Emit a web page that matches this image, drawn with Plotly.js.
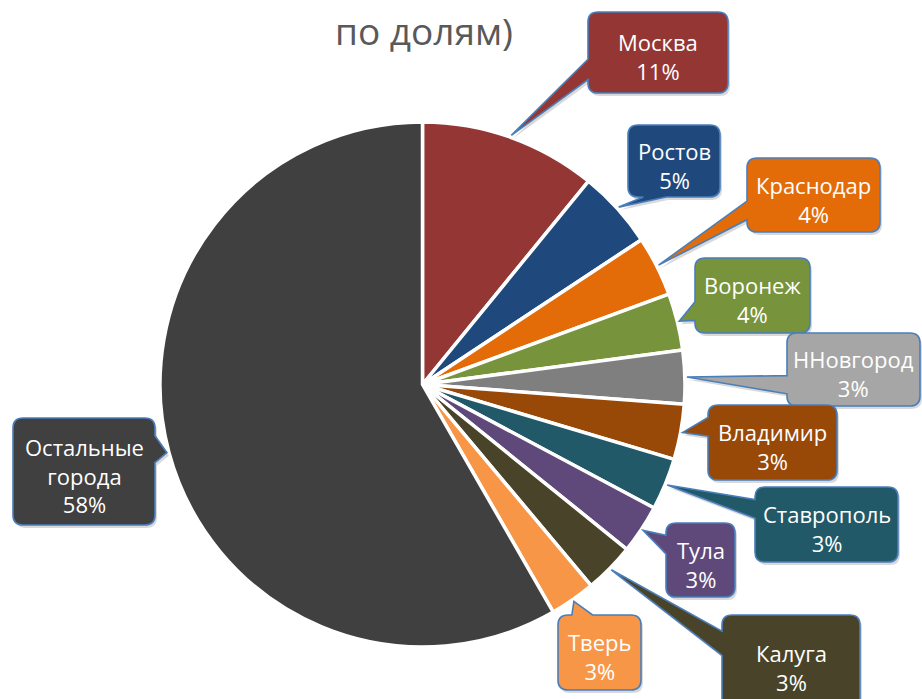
<!DOCTYPE html>
<html>
<head>
<meta charset="utf-8">
<script src="https://cdn.plot.ly/plotly-3.0.1.min.js"></script>
<style>html,body{margin:0;padding:0;background:#fff;}#chart{width:922px;height:699px;}</style>
</head>
<body>
<div id="chart"></div>
<script>
// ---- data ----
const cities = ['Москва','Ростов','Краснодар','Воронеж','ННовгород','Владимир','Ставрополь','Тула','Калуга','Тверь','Остальные города'];
const shares = [10.9, 4.8, 3.7, 3.5, 3.3, 3.4, 3.2, 3.0, 3.1, 2.8, 58.3];
const shareLabels = ['11%','5%','4%','4%','3%','3%','3%','3%','3%','3%','58%'];
const titleText = 'по долям)';

// ---- styles / layout ----
const sliceColors = ['#943634','#1F497D','#E36C09','#77933C','#7F7F7F','#984807','#215968','#5F497A','#494429','#F79646','#404040'];
const boxColors   = ['#943634','#1F497D','#E36C09','#77933C','#A6A6A6','#984807','#215968','#5F497A','#494429','#F79646','#404040'];
// callout boxes in pixels [x0, y0, x1, y1]
const boxes = [
  [588, 12, 728, 93],
  [628, 125, 720, 197],
  [747, 158, 880, 232],
  [695, 258, 810, 333],
  [787, 333, 920, 406],
  [708, 405, 837, 480],
  [755, 487, 898, 562],
  [666, 523, 735, 597],
  [722, 615, 860, 712],
  [558, 615, 641, 690],
  [13, 418, 155, 525]
];
const W = 922, H = 699;
const PIE = {cx: 422.5, cy: 384.5, r: 262.5};

const P = (x, y) => (x / W).toFixed(5) + ',' + (1 - y / H).toFixed(5);

function calloutPath(b, tip, rc, off) {
  let [x0, y0, x1, y1] = b;
  x0 += off[0]; x1 += off[0]; y0 += off[1]; y1 += off[1];
  const tx = tip[0] + off[0], ty = tip[1] + off[1];
  const w = x1 - x0, h = y1 - y0, cx = (x0 + x1) / 2, cy = (y0 + y1) / 2;
  const dx = tx - cx, dy = ty - cy;
  let side;
  if (Math.abs(dx) / w > Math.abs(dy) / h) side = dx < 0 ? 'L' : 'R';
  else side = dy < 0 ? 'T' : 'B';
  let b1, b2;
  if (side === 'L' || side === 'R') {
    if (dy > 0) { b1 = y0 + h * 7 / 12; b2 = y0 + h * 10 / 12; }
    else { b1 = y0 + h * 2 / 12; b2 = y0 + h * 5 / 12; }
  } else {
    if (dx > 0) { b1 = x0 + w * 7 / 12; b2 = x0 + w * 10 / 12; }
    else { b1 = x0 + w * 2 / 12; b2 = x0 + w * 5 / 12; }
  }
  let p = 'M ' + P(x0 + rc, y0);
  if (side === 'T') p += ' L ' + P(b1, y0) + ' L ' + P(tx, ty) + ' L ' + P(b2, y0);
  p += ' L ' + P(x1 - rc, y0) + ' Q ' + P(x1, y0) + ' ' + P(x1, y0 + rc);
  if (side === 'R') p += ' L ' + P(x1, b1) + ' L ' + P(tx, ty) + ' L ' + P(x1, b2);
  p += ' L ' + P(x1, y1 - rc) + ' Q ' + P(x1, y1) + ' ' + P(x1 - rc, y1);
  if (side === 'B') p += ' L ' + P(b2, y1) + ' L ' + P(tx, ty) + ' L ' + P(b1, y1);
  p += ' L ' + P(x0 + rc, y1) + ' Q ' + P(x0, y1) + ' ' + P(x0, y1 - rc);
  if (side === 'L') p += ' L ' + P(x0, b2) + ' L ' + P(tx, ty) + ' L ' + P(x0, b1);
  p += ' L ' + P(x0, y0 + rc) + ' Q ' + P(x0, y0) + ' ' + P(x0 + rc, y0) + ' Z';
  return p;
}

const total = shares.reduce((a, b) => a + b, 0);
const shapes = [], annotations = [];
let cum = 0;
shares.forEach((v, i) => {
  const mid = cum + v / 2;
  cum += v;
  const a = mid / total * 2 * Math.PI;
  const tip = [PIE.cx + (PIE.r + 2) * Math.sin(a), PIE.cy - (PIE.r + 2) * Math.cos(a)];
  const b = boxes[i];
  shapes.push({type: 'path', xref: 'paper', yref: 'paper', layer: 'above',
    path: calloutPath(b, tip, 10, [2, 3]), fillcolor: 'rgba(0,0,0,0.15)', line: {width: 0}});
  shapes.push({type: 'path', xref: 'paper', yref: 'paper', layer: 'above',
    path: calloutPath(b, tip, 10, [0, 0]), fillcolor: boxColors[i], line: {color: '#4A7EBB', width: 1.6}});
  annotations.push({xref: 'paper', yref: 'paper', x: (b[0] + b[2]) / 2 / W,
    y: 1 - ((b[1] + b[3]) / 2 + 4) / H,
    xanchor: 'center', yanchor: 'middle', showarrow: false, align: 'center',
    text: cities[i].replace(' ', '<br>') + '<br>' + shareLabels[i],
    font: {family: 'Open Sans, sans-serif', size: 22, color: '#FFFFFF'}});
});

const trace = {
  type: 'pie',
  labels: cities,
  values: shares,
  sort: false,
  direction: 'clockwise',
  rotation: 0,
  textinfo: 'none',
  hoverinfo: 'label+percent',
  marker: {colors: sliceColors, line: {color: '#FFFFFF', width: 3.5}},
  domain: {x: [(PIE.cx - PIE.r) / W, (PIE.cx + PIE.r) / W], y: [1 - (PIE.cy + PIE.r) / H, 1 - (PIE.cy - PIE.r) / H]},
  showlegend: false
};

const layout = {
  width: W, height: H,
  margin: {l: 0, r: 0, t: 0, b: 0},
  paper_bgcolor: '#FFFFFF',
  title: {text: titleText, x: 424 / W, xanchor: 'center', y: 1 - 32 / H, yanchor: 'middle', yref: 'paper',
    font: {family: 'Open Sans, sans-serif', size: 37, color: '#595959'}},
  shapes: shapes,
  annotations: annotations,
  showlegend: false
};

Plotly.newPlot('chart', [trace], layout, {displayModeBar: false, staticPlot: true});
</script>
</body>
</html>
